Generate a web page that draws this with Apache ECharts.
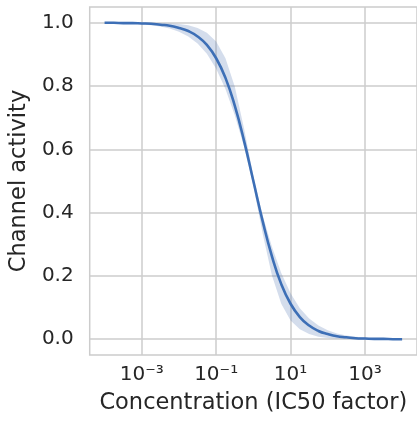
<!DOCTYPE html>
<html>
<head>
<meta charset="utf-8">
<script src="https://cdn.jsdelivr.net/npm/echarts@6/dist/echarts.min.js"></script>
<style>
  html, body { margin: 0; padding: 0; background: #fff; }
  #chart { width: 417px; height: 424px; }
</style>
</head>
<body>
<div id="chart"></div>
<script>
// log10 of concentration (IC50 factor)
var logConc = [-4, -3.75, -3.5, -3.25, -3, -2.75, -2.5, -2.25, -2, -1.75, -1.5, -1.25, -1, -0.75, -0.5, -0.25,
  0, 0.25, 0.5, 0.75, 1, 1.25, 1.5, 1.75, 2, 2.25, 2.5, 2.75, 3, 3.25, 3.5, 3.75, 4];
// channel activity, median curve
var activity = [1.000, 1.000, 0.999, 0.999, 0.998, 0.997, 0.994, 0.991, 0.984, 0.974, 0.957, 0.930, 0.888, 0.826, 0.738, 0.627,
  0.500, 0.373, 0.262, 0.174, 0.112, 0.070, 0.043, 0.026, 0.016, 0.009, 0.006, 0.003, 0.002, 0.001, 0.001, 0.000, 0.000];
// shaded band
var bandLow = [0.999, 0.999, 0.998, 0.997, 0.995, 0.992, 0.988, 0.982, 0.972, 0.957, 0.935, 0.902, 0.855, 0.791, 0.708, 0.609,
  0.485, 0.334, 0.201, 0.112, 0.059, 0.031, 0.016, 0.008, 0.004, 0.002, 0.001, 0.000, 0.000, 0.000, 0.000, 0.000, 0.000];
var bandHigh = [1.000, 1.000, 1.000, 1.000, 1.000, 1.000, 0.999, 0.998, 0.996, 0.992, 0.984, 0.969, 0.941, 0.888, 0.799, 0.666,
  0.515, 0.391, 0.292, 0.209, 0.145, 0.098, 0.065, 0.043, 0.028, 0.018, 0.012, 0.008, 0.005, 0.003, 0.002, 0.001, 0.001];

var xTicks = [-3, -1, 1, 3];
var xTickLabels = {'-3': '10⁻³', '-1': '10⁻¹', '1': '10¹', '3': '10³'};
var yTicks = [0, 0.2, 0.4, 0.6, 0.8, 1.0];

var chart = echarts.init(document.getElementById('chart'), null, {renderer: 'canvas'});

var textColor = '#262626';
var gridColor = '#cccccc';
var lineColor = '#3d6fb6';

// band polygon: upper edge left->right, lower edge right->left
function renderBand(params, api) {
  if (params.dataIndex !== 0) return;
  var pts = [];
  for (var i = 0; i < logConc.length; i++) pts.push(api.coord([logConc[i], bandHigh[i]]));
  for (var j = logConc.length - 1; j >= 0; j--) pts.push(api.coord([logConc[j], bandLow[j]]));
  return {
    type: 'polygon',
    shape: { points: pts },
    style: { fill: 'rgba(76,114,176,0.24)', stroke: null }
  };
}

var option = {
  animation: false,
  textStyle: { fontFamily: 'DejaVu Sans' },
  grid: {
    left: 88, top: 7, width: 334, height: 348,
    show: true, borderColor: gridColor, borderWidth: 1.5, backgroundColor: '#fff'
  },
  xAxis: {
    type: 'value', min: -4.4, max: 4.4,
    name: 'Concentration (IC50 factor)',
    nameLocation: 'middle', nameGap: 37,
    nameTextStyle: { fontSize: 22.5, color: textColor, fontFamily: 'DejaVu Sans' },
    axisLine: { show: false },
    axisTick: { show: false, customValues: xTicks },
    axisLabel: {
      customValues: xTicks, fontSize: 20, color: textColor, margin: 10,
      fontFamily: 'DejaVu Sans',
      formatter: function (v) { return xTickLabels[String(v)]; }
    },
    splitLine: { show: true, lineStyle: { color: gridColor, width: 1.5 } }
  },
  yAxis: {
    type: 'value', min: -0.05, max: 1.05,
    name: 'Channel activity',
    nameLocation: 'middle', nameGap: 56,
    nameTextStyle: { fontSize: 22.5, color: textColor, fontFamily: 'DejaVu Sans' },
    axisLine: { show: false },
    axisTick: { show: false, customValues: yTicks },
    axisLabel: {
      customValues: yTicks, fontSize: 20, color: textColor, margin: 16,
      fontFamily: 'DejaVu Sans',
      formatter: function (v) { return v.toFixed(1); }
    },
    splitLine: { show: true, lineStyle: { color: gridColor, width: 1.5 } }
  },
  series: [
    {
      type: 'custom',
      renderItem: renderBand,
      data: logConc.map(function (e, i) { return [e, bandHigh[i]]; }),
      z: 1
    },
    {
      type: 'line', symbol: 'none', smooth: true,
      lineStyle: { color: lineColor, width: 2.6 },
      data: logConc.map(function (e, i) { return [e, activity[i]]; }),
      z: 2
    }
  ]
};
chart.setOption(option);
</script>
</body>
</html>
